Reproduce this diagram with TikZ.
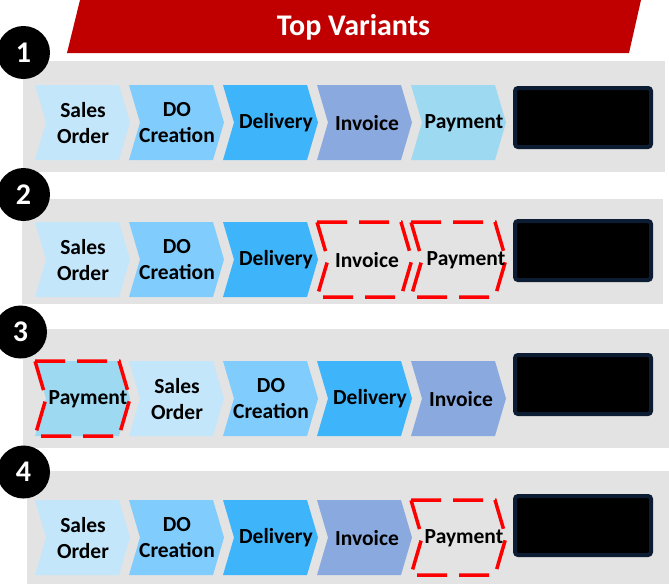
\documentclass[tikz,border=0pt]{standalone}
\usepackage{fontspec}
\setmainfont{Carlito}
\definecolor{bandgray}{HTML}{E3E3E3}
\definecolor{cSO}{HTML}{C3E6FB}
\definecolor{cDO}{HTML}{80CCFC}
\definecolor{cDel}{HTML}{3EB4FA}
\definecolor{cInv}{HTML}{8AAADF}
\definecolor{cPay}{HTML}{9DD9F1}
\definecolor{titlered}{HTML}{C00000}
\definecolor{boxnavy}{HTML}{0C1C33}
\definecolor{dashred}{HTML}{FF0000}
\tikzset{
  band/.style={fill=bandgray, draw=none},
  lbl/.style={font=\fontsize{21.5}{26}\selectfont\bfseries, align=center, text=black, inner sep=0pt},
  filled/.style={fill=#1, draw=none},
  dashedchev/.style={draw=dashred, line width=3.5pt, dash pattern=on 30pt off 12pt, line join=miter},
  blackbox/.style={draw=boxnavy, fill=black, line width=4pt, rounded corners=3pt,
    minimum width=136pt, minimum height=59pt, inner sep=0pt},
  numc/.style={circle, fill=black, text=white, minimum size=53pt, inner sep=0pt,
    font=\fontsize{30}{30}\selectfont\bfseries},
}
% #1 left x, #2 top y, #3 style, #4 name, #5 text x offset, #6 text
\newcommand\mychev[6]{%
  \path[#3] (#1,#2) -- ++(84,0) -- ++(11,37.5) -- ++(-11,37.5) -- ++(-84,0) -- ++(11,-37.5) -- cycle;
  \node[lbl] (#4) at (#1+#5,#2+38) {#6};
}
\begin{document}
\begin{tikzpicture}[x=1pt,y=-1pt]
\useasboundingbox (0,0) rectangle (669,584);
\fill[white] (0,0) rectangle (669,584);
% title banner
\fill[titlered] (80,0) -- (641,0) -- (629,53) -- (67,53) -- cycle;
\node[font=\fontsize{30}{30}\selectfont\bfseries, text=white] (title) at (353.5,27) {Top Variants};
% bands
\path[band] (23,61) rectangle (665,172);
\path[band] (22,199) rectangle (663,304);
\path[band] (23,329) rectangle (669,448);
\path[band] (27,471) rectangle (669,584);
% number circles
\node[numc] (n1) at (23.5,52.5) {1};
\node[numc] (n2) at (23.5,194.5) {2};
\node[numc] (n3) at (20.5,332) {3};
\node[numc] (n4) at (23.5,472) {4};
% row 1
\mychev{35}{85}{filled=cSO}{r1a}{48}{Sales\\Order}
\mychev{129}{85}{filled=cDO}{r1b}{48}{DO\\Creation}
\mychev{223}{85}{filled=cDel}{r1c}{53}{Delivery}
\mychev{317}{85}{filled=cInv}{r1d}{50}{Invoice}
\mychev{411}{85}{filled=cPay}{r1e}{53}{Payment}
\node[blackbox] (b1) at (583,117.5) {};
% row 2
\mychev{35}{222}{filled=cSO}{r2a}{48}{Sales\\Order}
\mychev{129}{222}{filled=cDO}{r2b}{48}{DO\\Creation}
\mychev{223}{222}{filled=cDel}{r2c}{53}{Delivery}
\mychev{317}{222}{dashedchev}{r2d}{50}{Invoice}
\mychev{411}{222}{dashedchev}{r2e}{55}{Payment}
\node[blackbox] (b2) at (583,250.5) {};
% row 3
\mychev{35}{361}{dashedchev, fill=cPay}{r3a}{53}{Payment}
\mychev{129}{361}{filled=cSO}{r3b}{48}{Sales\\Order}
\mychev{223}{361}{filled=cDO}{r3c}{48}{DO\\Creation}
\mychev{317}{361}{filled=cDel}{r3d}{53}{Delivery}
\mychev{411}{361}{filled=cInv}{r3e}{50}{Invoice}
\node[blackbox] (b3) at (583,384.5) {};
% row 4
\mychev{35}{500}{filled=cSO}{r4a}{48}{Sales\\Order}
\mychev{129}{500}{filled=cDO}{r4b}{48}{DO\\Creation}
\mychev{223}{500}{filled=cDel}{r4c}{53}{Delivery}
\mychev{317}{500}{filled=cInv}{r4d}{50}{Invoice}
\mychev{411}{500}{dashedchev}{r4e}{53}{Payment}
\node[blackbox] (b4) at (583,525.5) {};
\end{tikzpicture}
\end{document}
